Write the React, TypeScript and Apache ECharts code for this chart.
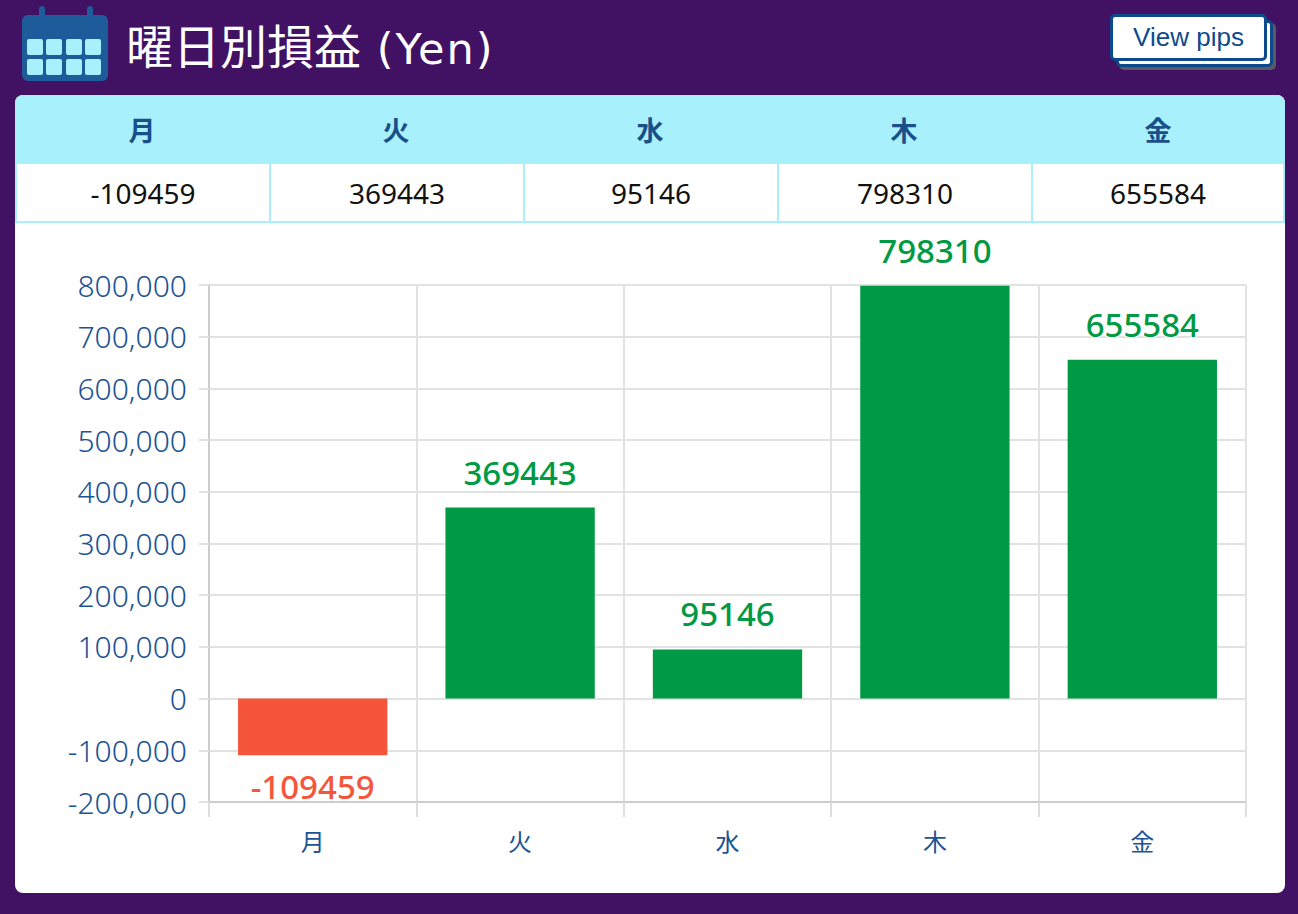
import React, { useEffect, useRef } from "react";
import * as echarts from "echarts";

const categories = ["月", "火", "水", "木", "金"];
const values = [-109459, 369443, 95146, 798310, 655584];
const yMin = -200000;
const yMax = 800000;
const yStep = 100000;

const PURPLE = "#411263";
const CYAN = "#a8f0fb";
const BLUE = "#1c5394";
const GREEN = "#009a44";
const RED = "#f5553b";

function Chart() {
  const ref = useRef<HTMLDivElement>(null);
  useEffect(() => {
    if (!ref.current) return;
    const chart = echarts.init(ref.current, undefined, { renderer: "svg" });
    chart.setOption({
      animation: false,
      grid: { left: 194, right: 39, top: 63, bottom: 91 },
      xAxis: {
        type: "category",
        data: categories,
        boundaryGap: true,
        axisLine: { show: true, onZero: false, lineStyle: { color: "#cccccc", width: 2 } },
        axisTick: { show: true, length: 15, lineStyle: { color: "#dedede", width: 2 } },
        splitLine: { show: true, lineStyle: { color: "#e2e2e2", width: 2 } },
        axisLabel: {
          color: BLUE,
          fontSize: 24,
          margin: 26,
          fontFamily: "'Noto Sans CJK JP', 'Noto Sans', sans-serif",
        },
      },
      yAxis: {
        type: "value",
        min: yMin,
        max: yMax,
        interval: yStep,
        axisLine: { show: true, lineStyle: { color: "#cccccc", width: 2 } },
        axisTick: { show: true, length: 10, lineStyle: { color: "#e2e2e2", width: 2 } },
        splitLine: { show: true, lineStyle: { color: "#e2e2e2", width: 2 } },
        axisLabel: {
          color: BLUE,
          fontSize: 30,
          fontWeight: 300,
          margin: 22,
          fontFamily: "'Noto Sans', sans-serif",
          formatter: (v: number) => v.toLocaleString("en-US"),
        },
      },
      series: [
        {
          type: "bar",
          barWidth: "72%",
          data: values.map((v) => ({
            value: v,
            itemStyle: { color: v < 0 ? RED : GREEN },
            label: {
              position: v < 0 ? "bottom" : "top",
              distance: v < 0 ? 15 : 19,
              color: v < 0 ? RED : GREEN,
            },
          })),
          label: {
            show: true,
            fontSize: 33,
            fontWeight: 500,
            fontFamily: "'Noto Sans', sans-serif",
            textBorderColor: "#ffffff",
            textBorderWidth: 2,
            formatter: (p: any) => String(p.value),
          },
        },
      ],
    });
    return () => chart.dispose();
  }, []);
  return <div ref={ref} style={{ position: "absolute", left: 0, top: 127, width: 1270, height: 671 }} />;
}

function CalendarIcon() {
  const cells = [];
  const xs = [5, 24, 44, 63];
  const ys = [33, 53];
  for (const y of ys) for (const x of xs) cells.push({ x, y });
  return (
    <div style={{ position: "absolute", left: 22, top: 6, width: 86, height: 75 }}>
      <div style={{ position: "absolute", left: 17, top: 0, width: 6, height: 16, background: "#1d5b9b", borderRadius: 3 }} />
      <div style={{ position: "absolute", left: 65, top: 0, width: 6, height: 16, background: "#1d5b9b", borderRadius: 3 }} />
      <div style={{ position: "absolute", left: 0, top: 9, width: 86, height: 66, background: "#1d5b9b", borderRadius: 6 }} />
      {cells.map((c, i) => (
        <div
          key={i}
          style={{ position: "absolute", left: c.x, top: c.y, width: 16, height: 16, background: CYAN, borderRadius: 2 }}
        />
      ))}
    </div>
  );
}

export default function App() {
  const colW = 1270 / categories.length;
  return (
    <div style={{ position: "fixed", left: 0, top: 0, width: 1298, height: 914, background: PURPLE, overflow: "hidden" }}>
      <CalendarIcon />
      <div
        style={{
          position: "absolute",
          left: 126,
          top: 20,
          color: "#ffffff",
          fontSize: 47,
          lineHeight: "48px",
          fontFamily: "'Noto Sans CJK JP', 'Noto Sans', sans-serif",
          whiteSpace: "nowrap",
        }}
      >
        曜日別損益
        <span style={{ fontFamily: "'DejaVu Sans', sans-serif", fontSize: 43, letterSpacing: 2 }}> (Yen)</span>
      </div>
      <div
        style={{
          position: "absolute",
          left: 1116,
          top: 20,
          width: 157,
          height: 47,
          boxSizing: "border-box",
          border: "3px solid #0d4a8c",
          borderRadius: 5,
          background: "#ffffff",
          boxShadow: "3px 3px 0 #5a5a66",
        }}
      />
      <div
        style={{
          position: "absolute",
          left: 1110,
          top: 14,
          width: 157,
          height: 47,
          boxSizing: "border-box",
          border: "3px solid #0d4a8c",
          borderRadius: 5,
          background: "#ffffff",
          color: "#0d4a8c",
          fontSize: 26,
          fontFamily: "'Liberation Sans', Arial, sans-serif",
          display: "flex",
          alignItems: "center",
          justifyContent: "center",
        }}
      >
        View pips
      </div>
      <div
        style={{
          position: "absolute",
          left: 15,
          top: 95,
          width: 1270,
          height: 798,
          background: "#ffffff",
          borderRadius: 8,
          overflow: "hidden",
        }}
      >
        <div style={{ position: "absolute", left: 0, top: 0, width: 1270, height: 68, background: CYAN }}>
          {categories.map((c, i) => (
            <div
              key={c}
              style={{
                position: "absolute",
                left: i * colW,
                top: 0,
                width: colW,
                height: 68,
                display: "flex",
                alignItems: "center",
                justifyContent: "center",
                color: "#1a4f8a",
                fontSize: 27,
                fontWeight: 700,
                fontFamily: "'Noto Sans CJK JP', 'Noto Sans', sans-serif",
              }}
            >
              {c}
            </div>
          ))}
        </div>
        {values.map((v, i) => (
          <div
            key={i}
            style={{
              position: "absolute",
              left: i * colW,
              top: 67,
              width: colW + (i < values.length - 1 ? 2 : 0),
              height: 61,
              boxSizing: "border-box",
              border: `2px solid ${CYAN}`,
              display: "flex",
              alignItems: "center",
              justifyContent: "center",
              color: "#111111",
              fontSize: 28,
              fontFamily: "'Noto Sans', sans-serif",
            }}
          >
            {String(v)}
          </div>
        ))}
        <Chart />
      </div>
    </div>
  );
}
